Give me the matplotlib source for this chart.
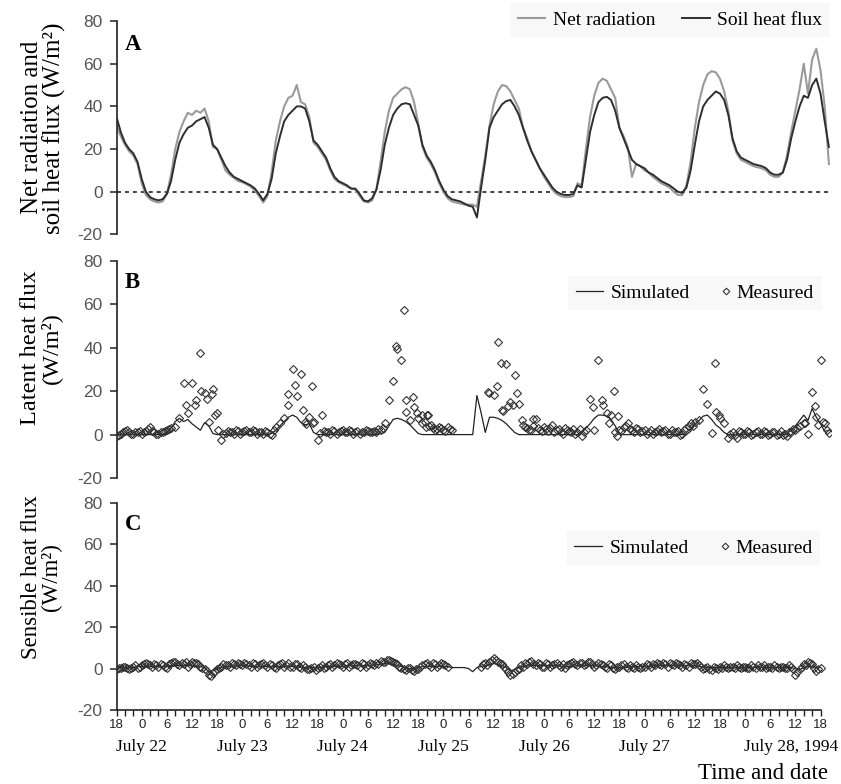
import numpy as np
import matplotlib
matplotlib.use("Agg")
import matplotlib.pyplot as plt
from matplotlib.ticker import FixedLocator
from matplotlib.legend_handler import HandlerLine2D

plt.rcParams['font.family'] = ['Liberation Serif', 'DejaVu Serif']

nan = np.nan

# ---------------- data (hours since 18:00, July 21, 1994) ----------------
net_radiation = [
    31, 26, 22, 19, 17, 13, 4, -1.5, -3.5, -4.5, -5, -4.5,
    -1, 8, 20, 28, 33, 37, 36, 38, 37, 39, 33, 21,
    20, 15, 10, 8, 6.5, 5, 4.5, 3.5, 2.5, 0.5, -2, -5,
    -2, 9, 24, 33, 40, 44, 45, 50, 42, 41, 35, 23,
    21, 18, 15, 10, 6, 4.5, 3.5, 2.5, 1.5, 1, -2, -4.5,
    -5, -4, 1, 14, 28, 38, 44, 46, 48, 49, 48, 42,
    32, 21, 16, 13, 9, 4, 0, -3, -4.5, -5, -5.5, -6,
    -6, -6, -7, 5, 17, 31, 41, 47, 50, 49.5, 47, 43,
    39, 30, 25, 19, 15, 11, 7, 4, 1, -1, -2, -2.5,
    -2.5, -2, 4, 3, 20, 35, 45, 51, 53, 52, 48, 44,
    30, 26, 21, 7, 13, 12, 10, 9, 7, 5.5, 4, 3,
    2, 0, -1.5, -1.5, 3, 14, 30, 42, 50, 55, 56.5, 56,
    53, 47, 38, 24, 18, 15, 14, 13, 12, 11.5, 11, 10,
    8, 7, 7, 9, 17, 28, 38, 48, 60, 46, 62, 67,
    57, 40, 13]

soil_heat_flux = [
    35, 28, 23, 20, 18, 14, 6, 0, -2.5, -3.5, -4, -3.5,
    -1, 5, 15, 23, 27, 30, 31, 33, 34, 35, 30, 22,
    20, 16, 12, 9, 7, 6, 5, 4, 3, 1.5, -1, -4,
    -1, 6, 18, 26, 33, 36, 38, 40, 40, 39, 33, 24,
    22, 19, 16, 11, 7, 5, 4, 3, 1.5, 1.5, -1, -4,
    -4.5, -3, 1, 10, 22, 30, 36, 39, 41, 41.5, 41, 36,
    31, 22, 17, 14, 10, 5, 1, -2, -3.5, -4, -4.5, -5.5,
    -6.5, -7, -12, 2, 15, 30, 35, 38, 41, 42.5, 43, 40,
    36, 30, 24, 19, 15, 11, 8, 5, 2, 0, -1, -1.5,
    -1.5, -1, 3, 2, 15, 28, 36, 42, 44, 44.5, 43, 38,
    30, 25, 20, 15, 13, 12, 11, 9, 8, 6.5, 5, 4,
    3, 1.5, 0, -0.5, 2, 10, 22, 33, 40, 43, 45, 47,
    46, 43, 36, 25, 19, 16, 15, 14, 13, 12.5, 12, 11,
    9, 8, 8, 9, 15, 25, 33, 40, 45, 44, 50, 53,
    46, 33, 21]

latent_sim = [
    0, 0, 0, 0, 0, 0, 0, 0, 0, 0, 0, 0,
    1, 3, 6, 7.5, 6, 7, 5, 3.5, 2, 5.5, 4, 0.5,
    0, 0, 0, 0, 0, 0, 0, 0, 0, 0, 0, 0,
    0, 0.5, 2, 4, 6, 8, 9, 8, 5.5, 4.5, 5, 1,
    0, 0, 0, 0, 0, 0, 0, 0, 0, 0, 0, 0,
    0, 0, 0, 0.5, 1, 4, 7, 7.5, 7, 6, 4.5, 2.5,
    0.5, 0, 0, 0, 0, 0, 0, 0, 0, 0, 0, 0,
    0, 0, 18, 10, 1, 8, 8, 7.5, 6.5, 5, 3, 1,
    0, 0, 0, 0, 0, 0, 0, 0, 0, 0, 0, 0,
    0, 0, 0, 1, 3, 5, 7.5, 9, 9, 8.5, 7, 4,
    0.5, 0, 0, 0, 0, 0, 0, 0, 0, 0, 0, 0,
    0, 0, 0, 0, 0, 1.5, 4.5, 6.5, 8.5, 9, 7, 4.5,
    3, 1, 0, 0, 0, 0, 0, 0, 0, 0, 0, 0,
    0, 0, 0, 0, 0.5, 2, 4, 6.5, 9, 6.5, 12, 8,
    5, 1.5, 2]

# measured latent heat flux on the hour
latent_meas = [
    -0.5, 0.5, 1.5, 1, 0.5, 1, 0.5, 1.5, 3.5, 1, 0.5, 1,
    2, 3, 3.7, 7.5, 24, 10, 24, 15.9, 37.7, 19.4, 6, 21,
    9.8, -2.5, 0.9, 1, 0.5, 1.5, 1, 2, 1, 1.5, 1, 0.5,
    1, 0, 3.7, 5.3, 7.5, 18.5, 30, 17.9, 27.7, 6, 8.3, 6,
    -2.5, 9, 1, 0.5, 1.5, 1, 2, 1, 1.5, 1, 0.5, 1,
    1.5, 1, 1, 2, 5.3, 15.9, 24.6, 39.4, 34.4, 15.9, 6.8, 12.8,
    7.5, 5.3, 9, 4.5, 2.2, 3.7, 2.2, 3.7, 2.2, nan, nan, nan,
    nan, nan, nan, nan, nan, 19, 18.3, 42.6, 11.3, 32.4, 15.1, 27.4,
    14.3, 4.5, 2.9, 2.2, 7.1, 2.2, 3.7, 1.5, 4.5, 2, 1, 3,
    1.5, 2.5, 1, -0.8, 2.2, 16.6, 2.2, 34.6, 13.6, 9.8, 9, 1.4,
    2.2, 3.7, 5.3, 2, 3, 1, 2, 1, 0.5, 1.5, 1, 2,
    0.5, 1, 1.5, 0.5, 3, 5.3, 6, 6.5, 21, 14.3, 0.6, 10.5,
    7.5, 5.3, -1.7, 1.4, -1.7, 1, 0.5, 1, 0.5, 1.5, 0.5, 1,
    0.5, 1, 0.5, 0, -0.5, 1.4, 2, 4, 5.3, 0.4, 19.8, 8.3,
    34.6, 5.3, 0.6]

# measured latent heat flux on the half hour (night-time)
latent_meas_half = [
    0, 1, 2, 0.5, 1, 1.5, 1, 2.5, 1.5, 0.5, 1, 1.5,
    2.5, nan, nan, nan, nan, nan, nan, nan, nan, nan, nan, nan,
    nan, 0.5, 1.5, 1, 2, 0.5, 1.5, 1, 2, 0.5, 1, 1.5,
    0.5, 2, nan, nan, nan, nan, nan, nan, nan, nan, nan, nan,
    nan, 1.5, 1, 2, 0.5, 1.5, 1, 2, 0.5, 1.5, 1, 2,
    1, 1.5, 2.5, 3, nan, nan, nan, nan, nan, nan, nan, nan,
    nan, 6, 4, 3, 2.5, 3, 1.5, 2.5, nan, nan, nan, nan,
    nan, nan, nan, nan, nan, nan, nan, nan, nan, nan, nan, nan,
    nan, 3.5, 2, 4, 3, 1.5, 2.5, 3, 1, 2.5, 0.5, 2,
    1, 0.5, 2.5, 1, nan, nan, nan, nan, nan, nan, nan, nan,
    1.5, 4, 2.5, 1, 2.5, 1.5, 0.5, 2, 1, 2.5, 1.5, 0.5,
    2, 1, 0, 2, 4, nan, nan, nan, nan, nan, nan, nan,
    nan, nan, 0.5, 0, 1.5, 0.5, 1.5, 0, 1, 0.5, 1.5, 0,
    1, 0, 1.5, 0.5, 1, 2.5, 3, nan, nan, nan, nan, nan,
    nan, nan]

# additional daytime readings of latent heat flux
latent_meas_extra_hour = [16.6, 18.7, 20.2, 21.5, 22.7, 23.5, 24.3,
                          41.0, 42.6, 44.6, 45.2, 46.6, 46.9, 48.6,
                          66.8, 68.7, 69.1, 70.8, 71.6, 72.8, 73.8, 74.4,
                          88.7, 90.7, 91.7, 92.3, 93.5, 94.5, 95.5, 96.7, 99.3,
                          113.6, 115.8, 117.5, 118.6, 119.4, 119.7,
                          137.5, 142.8, 143.8,
                          164.3, 166.7, 167.5, 168.7, 169.5]
latent_meas_extra = [13.5, 13.6, 20.2, 16.6, 18.7, 9, 2.2,
                     13.6, 22.8, 11.3, 5, 22.4, 5.5, 0.6,
                     40.8, 57.4, 10.6, 17.2, 10.1, 9, 3.7, 9,
                     19.8, 22.4, 32.9, 11, 13.1, 13.6, 19, 6.8, 7,
                     12.8, 15.9, 5.3, 20.2, -0.8, 8.7,
                     4, 32.9, 9,
                     5.3, 13.1, 4.5, 6, 2.2]

sensible_sim = [
    0, 0.5, 0.5, 0.5, 0.5, 1, 1, 1, 1, 1, 1, 1,
    1, 1.5, 1.5, 1.5, 1.5, 1.5, 1.5, 1, 1, 0.5, -1.5, -1,
    0, 0.5, 1, 1, 1, 1.5, 1.5, 1.5, 1, 1, 1, 1,
    1, 1, 1, 1, 1, 1, 1, 1, 0.5, 0.5, 0.5, 0.5,
    0.5, 0.5, 1, 1, 1, 1, 1, 1.5, 1.5, 1.5, 1.5, 1.5,
    1.5, 1.5, 2, 2, 2.5, 2.5, 2, 1.5, 1, 0.5, 0, 0,
    0.5, 1, 1, 1, 1, 1, 1, 1, 0.5, 0.5, 0.5, 0.5,
    0, -1.5, 0.5, 1, 1.5, 2, 2.5, 2, 1.5, 0.5, -1, -0.5,
    0.5, 1, 1.5, 1.5, 1.5, 1.5, 1.5, 1.5, 1.5, 1.5, 1, 1,
    1, 1, 1.5, 1.5, 1.5, 1.5, 1.5, 1, 1, 1, 0.5, 0.5,
    0.5, 0.5, 0.5, 1, 1, 1, 1, 1, 1.5, 1.5, 1.5, 1.5,
    1.5, 1.5, 1.5, 1.5, 1.5, 1.5, 1.5, 1, 1, 0.5, 0.5, 0.5,
    0.5, 0.5, 0.5, 0.5, 0.5, 0.5, 0.5, 0.5, 0.5, 0.5, 0.5, 0.5,
    0.5, 0.5, 0.5, 0.5, 0.5, 0.5, 0, -0.5, 0.5, 1, 1, 0.5,
    0.5]

sensible_meas = [
    0, 0.5, 1, 0, 1, 0.5, 1.5, 2.5, 1.5, 2, 1, 1.5,
    0.5, 2.5, 3, 1.5, 2, 1, 3, 2.5, 1, 0, -3, -2,
    0, 1, 1.5, 1, 2, 2.5, 1.5, 2, 1, 2, 1.5, 2.5,
    1, 1.5, 0.5, 2, 1, 2.5, 1, 2, 0.5, 1, 0, 1,
    0.5, 1.5, 1, 2, 1.5, 2, 1, 2.5, 1.5, 2, 1, 2,
    1.5, 2, 2.5, 3.5, 3, 4, 3, 2, 0.5, -0.5, 0.5, -1,
    0, 1.5, 2.5, 1, 2, 1.5, 2, 1, nan, nan, nan, nan,
    nan, nan, nan, 1, 2.5, 3, 5, 3, 2, 0, -3, -1.5,
    0, 1, 2, 3.5, 1.5, 2, 1, 2, 1.5, 2.5, 1, 0.5,
    2, 3, 1.5, 2.5, 2, 3, 1, 2.5, 1.5, 0.5, 1.5, 0,
    1, 2, 0.5, 1, 1.5, 0.5, 1, 1.5, 2, 2.5, 1.5, 2,
    2.5, 1.5, 2, 1, 1.5, 2.5, 2, 1.5, 0, 1, -0.5, 0.5,
    1, 1.5, 0.5, 1, 1.5, 0.5, 1, 0.5, 1, 1.5, 1, 0.5,
    1, 1.5, 0.5, 1, 0.5, 1, -3, 0, 2, 3, 2, -1,
    0.5]

sensible_meas_half = [
    0.5, 1, 0.5, 0.5, 1.5, 1, 2, 2, 1, 1.5, 2, 1,
    2, 3, 2, 2.5, 3, 2, 2.5, 2, 0.5, -1, -3.5, -1,
    0.5, 2, 1.5, 2.5, 1.5, 2, 2.5, 1.5, 2.5, 1, 2, 1.5,
    2, 1, 1.5, 2.5, 1.5, 1, 2, 1, 1.5, 0, 0.5, -0.5,
    1, 0.5, 1.5, 1, 2.5, 1.5, 2, 1, 2, 1.5, 2.5, 1,
    2.5, 1.5, 2, 3, 4, 3.5, 2.5, 1, 0, 0.5, -0.5, 0,
    1, 2, 1.5, 2.5, 1, 2.5, 1.5, nan, nan, nan, nan, nan,
    nan, nan, nan, 2, 1.5, 4, 4, 2.5, 1, -1.5, -2.5, -0.5,
    1.5, 2.5, 3, 2, 2.5, 1, 2.5, 1, 2, 1.5, 2, 1.5,
    2.5, 2, 2.5, 1.5, 3, 2, 1.5, 2, 1, 2, 0.5, 1,
    1.5, 1, 1.5, 0.5, 1, 1, 2, 1, 1.5, 2, 2.5, 1,
    2, 2.5, 1.5, 2, 1, 2, 2.5, 1, 0.5, 0, 1, 0,
    0.5, 1, 1, 0.5, 1, 1, 0.5, 1.5, 0.5, 1, 1.5, 1,
    0.5, 1, 1, 0.5, 1.5, 0, -1.5, 1, 1.5, 2.5, 0.5, 0]

y_ticks = [-20, 0, 20, 40, 60, 80]
y_tick_labels = ['-20', '0', '20', '40', '60', '80']
x_tick_hours = [0, 6, 12, 18, 24, 30, 36, 42, 48, 54, 60, 66, 72, 78, 84, 90,
                96, 102, 108, 114, 120, 126, 132, 138, 144, 150, 156, 162, 168]
x_tick_labels = ['18', '0', '6', '12'] * 7 + ['18']
day_label_hours = [6, 30, 54, 78, 102, 126]
day_labels = ['July 22', 'July 23', 'July 24', 'July 25', 'July 26', 'July 27']
last_day_label = 'July 28, 1994'
last_day_hour = 149.7

h_a = np.arange(len(net_radiation))
h_b = np.arange(len(latent_sim))
h_b_half = np.arange(len(latent_meas_half)) + 0.5
h_c = np.arange(len(sensible_meas))
h_c_half = np.arange(len(sensible_meas_half)) + 0.5

# ---------------- figure ----------------
fig = plt.figure(figsize=(8.41, 7.84), dpi=100)
L, W = 0.1386, 0.8495
axA = fig.add_axes([L, 0.7009, W, 0.2723])
axB = fig.add_axes([L, 0.3903, W, 0.2768])
axC = fig.add_axes([L, 0.0944, W, 0.2640])

SANS = ['Liberation Sans', 'DejaVu Sans']
NARROW = ['Liberation Sans Narrow', 'Liberation Sans', 'DejaVu Sans']


def style(ax, bottom):
    ax.set_xlim(0, 170.5)
    ax.set_ylim(-20, 80)
    for s in ['top', 'right']:
        ax.spines[s].set_visible(False)
    ax.spines['left'].set_linewidth(1.2)
    ax.spines['left'].set_color('#222222')
    ax.set_yticks(y_ticks, labels=y_tick_labels, fontfamily=SANS,
                  fontsize=12.5, color='#555555')
    ax.tick_params(axis='y', direction='out', length=5, width=1.1,
                   pad=5, color='#222222')
    if not bottom:
        ax.spines['bottom'].set_visible(False)
        ax.tick_params(axis='x', which='both', bottom=False, labelbottom=False)


for ax, b in ((axA, False), (axB, False), (axC, True)):
    style(ax, b)

# Panel A
axA.axhline(0, color='#333333', lw=1.3, ls=(0, (2.2, 2.2)), zorder=1)
axA.plot(h_a, net_radiation, color='#9a9a9a', lw=1.5, label='Net radiation', zorder=2)
axA.plot(h_a, soil_heat_flux, color='#2e2e2e', lw=1.4, label='Soil heat flux', zorder=3)

# Panel B
mk = dict(marker='D', ms=4.2, mfc='none', mec='#333333', mew=0.8, ls='none')
axB.plot(h_b, latent_sim, color='#222222', lw=0.9, label='Simulated', zorder=2)
measB, = axB.plot(h_b, latent_meas, label='Measured', zorder=3, **mk)
axB.plot(h_b_half, latent_meas_half, zorder=3, **mk)
axB.plot(latent_meas_extra_hour, latent_meas_extra, zorder=3, **mk)

# Panel C
axC.plot(h_c, sensible_sim, color='#222222', lw=0.9, label='Simulated', zorder=2)
measC, = axC.plot(h_c, sensible_meas, label='Measured', zorder=3, **mk)
axC.plot(h_c_half, sensible_meas_half, zorder=3, **mk)

# X axis for C
axC.spines['bottom'].set_bounds(0, 168)
axC.spines['bottom'].set_linewidth(1.2)
axC.spines['bottom'].set_color('#222222')
axC.set_xticks(x_tick_hours, labels=x_tick_labels, fontfamily=NARROW,
               fontsize=9.5, color='#222222')
axC.xaxis.set_minor_locator(FixedLocator(np.arange(0, 169, 2)))
axC.tick_params(axis='x', which='both', direction='out', length=4.5,
                width=1.0, color='#222222', pad=2)

tr = axC.get_xaxis_transform()
for hh, lab in zip(day_label_hours, day_labels):
    axC.text(hh, -0.18, lab, transform=tr, ha='center', va='center', fontsize=12.5)
axC.text(last_day_hour, -0.18, last_day_label, transform=tr, ha='left',
         va='center', fontsize=12.5)
axC.text(169.8, -0.305, 'Time and date', transform=tr, ha='right',
         va='center', fontsize=16.5)

# Y labels
axA.set_ylabel('Net radiation and\nsoil heat flux (W/m²)', fontsize=18, linespacing=0.95)
axA.yaxis.set_label_coords(-0.071, 0.5)
axB.set_ylabel('Latent heat flux\n(W/m²)', fontsize=17.5, linespacing=0.95)
axB.yaxis.set_label_coords(-0.076, 0.60)
axC.set_ylabel('Sensible heat flux\n(W/m²)', fontsize=16.5, linespacing=0.95)
axC.yaxis.set_label_coords(-0.076, 0.643)

# Panel letters
for ax, letter, yy in ((axA, 'A', 0.892), (axB, 'B', 0.899), (axC, 'C', 0.894)):
    ax.text(0.012, yy, letter, transform=ax.transAxes, ha='left', va='center',
            fontsize=16.5, fontweight='bold')


class MarkerRightHandler(HandlerLine2D):
    """Legend handler that puts the marker near the right end of the handle."""
    def create_artists(self, legend, orig_handle, xdescent, ydescent,
                       width, height, fontsize, trans):
        return super().create_artists(legend, orig_handle, xdescent - 0.4 * width,
                                      ydescent, width, height, fontsize, trans)


# Legends
leg_kw = dict(ncol=2, fontsize=14, handlelength=1.4, handletextpad=0.4,
              borderpad=0.4, borderaxespad=0.0, fancybox=False,
              facecolor='#f8f8f8', edgecolor='none', framealpha=1.0,
              loc='center right')
axA.legend(bbox_to_anchor=(0.999, 1.005), columnspacing=1.4, **leg_kw)
axB.legend(bbox_to_anchor=(0.987, 0.8525), columnspacing=0.6, markerscale=0.8,
           handler_map={measB: MarkerRightHandler()}, **leg_kw)
axC.legend(bbox_to_anchor=(0.985, 0.7826), columnspacing=0.6, markerscale=0.8,
           handler_map={measC: MarkerRightHandler()}, **leg_kw)

fig.savefig('out.png', dpi=100)
